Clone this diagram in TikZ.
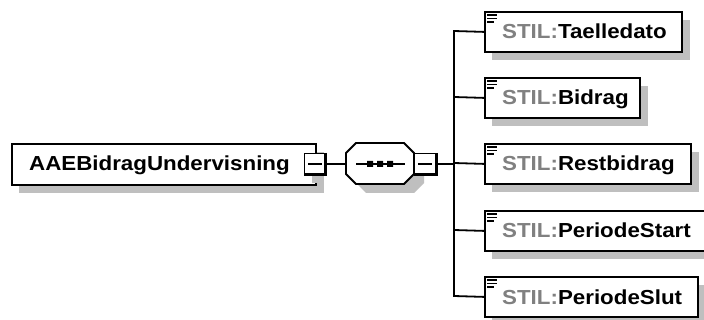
\documentclass[tikz,border=0pt]{standalone}
\usepackage{fontspec}
\setmainfont{Liberation Sans}[FakeStretch=1.1]
\definecolor{shadowgray}{gray}{0.75}
\definecolor{prefix}{gray}{0.5}
\tikzset{x=1pt,y=-1pt,
 conn/.style={draw=black,line width=1.8pt},
 elbox/.style={draw=black,line width=1.8pt,fill=white},
 lbl/.style={inner sep=0pt,anchor=base west,font=\fontsize{20.3}{22}\selectfont\bfseries},
}
\newcommand{\elem}[3]{% name, top, right
 \fill[shadowgray] (492,#2+9) rectangle (#3+9,#2+49);
 \node[elbox,minimum width=#3pt-484pt,minimum height=40pt,anchor=north west,inner sep=0pt] (#1) at (484,#2) {};
 \draw[line width=1.3pt] (487,#2+4) -- (497,#2+4) (487,#2+7.5) -- (497,#2+7.5) (487,#2+11) -- (494,#2+11);
}
\begin{document}
\begin{tikzpicture}
\useasboundingbox (0,0) rectangle (704,320);
\fill[white] (0,0) rectangle (704,320);
\coordinate (trunkT) at (454,31);
\coordinate (trunkB) at (454,296);
\elem{a}{11}{681}
\node[lbl] (at) at (502,39) {\textcolor{prefix}{STIL:}Taelledato};
\elem{b}{77}{639}
\node[lbl] (bt) at (502,105) {\textcolor{prefix}{STIL:}Bidrag};
\elem{c}{143}{690}
\node[lbl] (ct) at (502,171) {\textcolor{prefix}{STIL:}Restbidrag};
\elem{d}{210}{706}
\node[lbl] (dt) at (502,238) {\textcolor{prefix}{STIL:}PeriodeStart};
\elem{e}{276}{697}
\node[lbl] (et) at (502,305) {\textcolor{prefix}{STIL:}PeriodeSlut};
\draw[conn] (a.west) -- (trunkT) -- (trunkB) -- (e.west);
\draw[conn] (b.west) -- (454,97);
\draw[conn] (c.west) -- (454,163);
\draw[conn] (d.west) -- (454,230);
% main
\fill[shadowgray] (19,152) rectangle (324,193);
\node[elbox,minimum width=304pt,minimum height=41pt,anchor=north west,inner sep=0pt] (root) at (11,143) {};
\node[lbl] (roott) at (29,171) {AAEBidragUndervisning};
% sequence
\fill[shadowgray] (366,152) -- (414,152) -- (424,162) -- (424,183) -- (414,193) -- (366,193) -- (356,183) -- (356,162) -- cycle;
\coordinate (seqW) at (346,164);
\filldraw[elbox] (356,143) -- (404,143) -- (414,153) -- (414,174) -- (404,184) -- (356,184) -- (346,174) -- (346,153) -- cycle;
\draw[line width=1.5pt] (356,164) -- (405,164);
\fill (367,161) rectangle (373,167) (377,161) rectangle (383,167) (387,161) rectangle (393,167);
% expanders
\fill[shadowgray] (312,161) rectangle (324,183);
\node[fill=white,draw=black,line width=1.8pt,minimum width=21pt,minimum height=21pt,inner sep=0pt] (x1) at (315,164) {};
\draw[line width=3pt] (325,153) -- (325,175) -- (304,175);
\draw[line width=1.5pt] (308,164) -- (322,164);
\node[fill=white,draw=black,line width=1.8pt,minimum width=21pt,minimum height=21pt,inner sep=0pt] (x2) at (425,164) {};
\draw[line width=3pt] (436,153) -- (436,175) -- (414,175);
\draw[line width=1.5pt] (418,164) -- (432,164);
\draw[conn] (x1.east) -- (seqW);
\draw[conn] (x2.east) -- (454,164);
\end{tikzpicture}
\end{document}
